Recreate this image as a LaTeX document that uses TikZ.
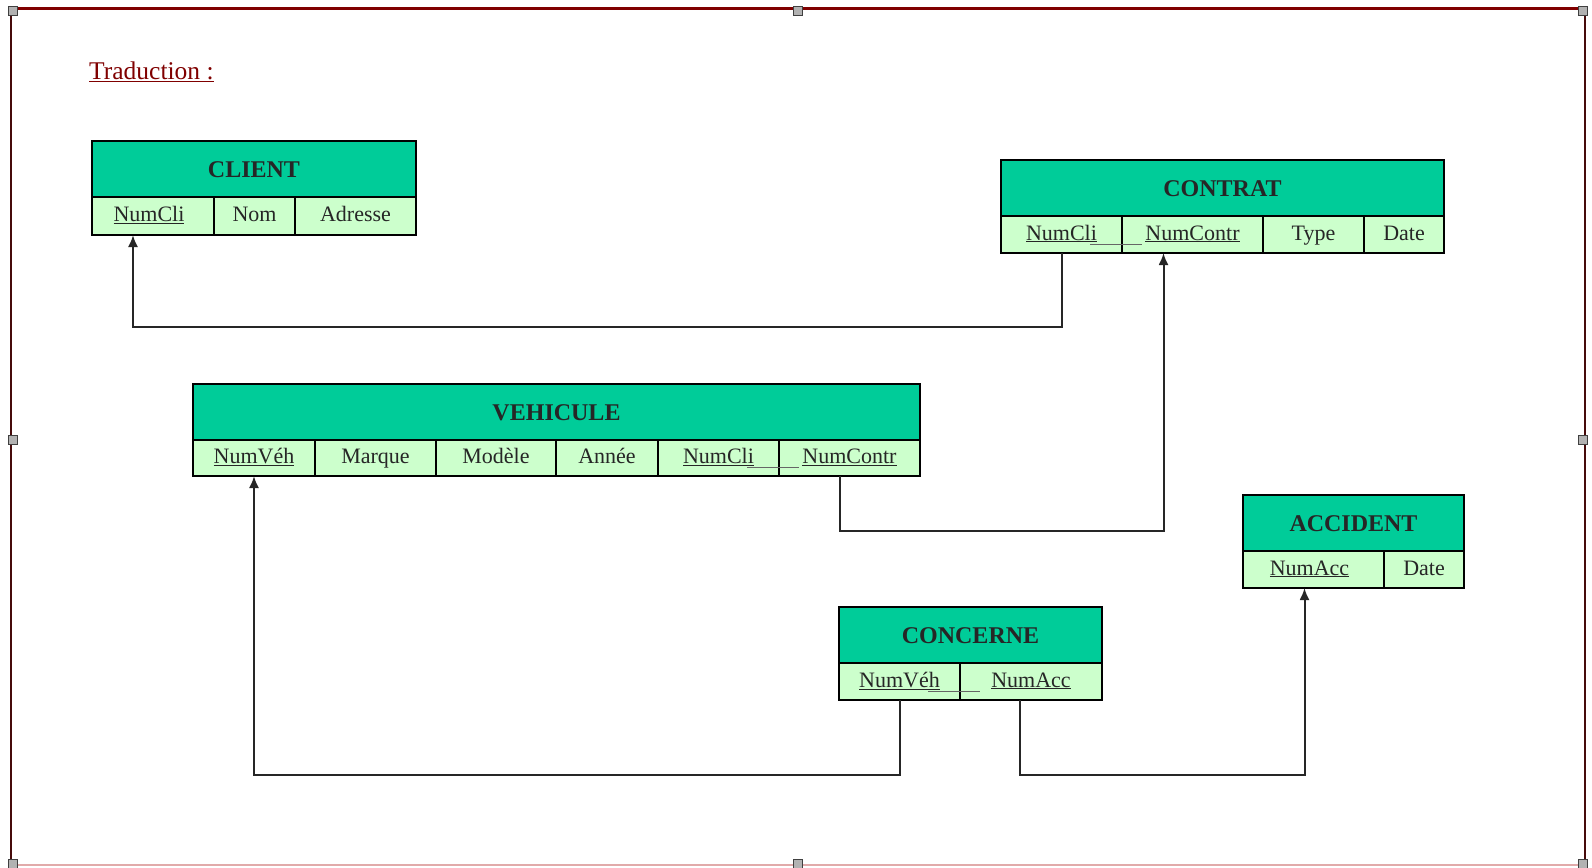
\documentclass[tikz,border=0pt]{standalone}
\usepackage{fontspec}
\setmainfont{Liberation Serif}
\usetikzlibrary{arrows.meta,calc}
\definecolor{hdrgreen}{RGB}{0,204,153}
\definecolor{attgreen}{RGB}{204,255,204}
\definecolor{framered}{RGB}{128,0,0}
\definecolor{framedark}{RGB}{70,10,10}
\definecolor{framepink}{RGB}{225,170,170}
\definecolor{titlered}{RGB}{128,0,0}
\begin{document}
\begin{tikzpicture}[x=1pt,y=-1pt,
  hdrbox/.style={draw=black,line width=1.8pt,fill=hdrgreen,inner sep=0pt,outer sep=0pt,anchor=north west,
     font=\fontsize{24}{28}\selectfont\bfseries,text=black!85,text height=17pt,text depth=0pt},
  cellbox/.style={draw=black,line width=1.8pt,fill=attgreen,inner sep=0pt,outer sep=0pt,anchor=north west,
     font=\fontsize{22}{26}\selectfont,text=black!85,text height=17pt,text depth=6pt},
  link/.style={line width=2pt,black!85},
  arrowlink/.style={link,-{Latex[length=12pt,width=10pt]}},
  keyjoin/.style={line width=1pt,black!60},
  handle/.style={draw=black!75,fill=black!30,line width=0.8pt,minimum size=9pt,inner sep=0pt}
]
\useasboundingbox (0,0) rectangle (1592,867);
\fill[white] (0,0) rectangle (1592,867);
% window frame
\draw[framepink,line width=1.5pt] (11,865) -- (1585,865);
\draw[framedark,line width=2pt] (11,9) -- (11,866);
\draw[framedark,line width=2pt] (1585,9) -- (1585,866);
\draw[framered,line width=3pt] (11,9) -- (1585,9);
\node[handle] (h1) at (13,11) {};
\node[handle] (h2) at (798,11) {};
\node[handle] (h3) at (1583,11) {};
\node[handle] (h4) at (13,440) {};
\node[handle] (h5) at (1583,440) {};
\node[handle] (h6) at (13,864) {};
\node[handle] (h7) at (798,864) {};
\node[handle] (h8) at (1583,864) {};

% title
\node[anchor=base west,inner sep=0pt,text=titlered,font=\fontsize{25.5}{30}\selectfont] (title) at (89,79) {\underline{Traduction :}};

% CLIENT
\node[hdrbox,minimum width=324pt,minimum height=56pt] (client) at (92,141) {CLIENT};
\node[cellbox,minimum width=122pt,minimum height=38pt] (client-numcli) at (92,197) {\underline{NumCli}\hspace*{8pt}};
\node[cellbox,minimum width=81pt,minimum height=38pt] (client-nom) at (214,197) {Nom};
\node[cellbox,minimum width=121pt,minimum height=38pt] (client-adr) at (295,197) {Adresse};

% CONTRAT
\node[hdrbox,minimum width=443pt,minimum height=56pt] (contrat) at (1001,160) {CONTRAT};
\node[cellbox,minimum width=121pt,minimum height=37pt] (contrat-numcli) at (1001,216) {\underline{NumCli}};
\node[cellbox,minimum width=141pt,minimum height=37pt] (contrat-numcontr) at (1122,216) {\underline{NumContr}};
\node[cellbox,minimum width=101pt,minimum height=37pt] (contrat-type) at (1263,216) {Type};
\node[cellbox,minimum width=80pt,minimum height=37pt] (contrat-date) at (1364,216) {Date};
\draw[keyjoin] ($(contrat-numcli.south east)+(-32,-9)$) -- ($(contrat-numcontr.south west)+(20,-9)$);

% VEHICULE
\node[hdrbox,minimum width=727pt,minimum height=56pt] (vehicule) at (193,384) {VEHICULE};
\node[cellbox,minimum width=122pt,minimum height=36pt] (veh-numveh) at (193,440) {\underline{NumVéh}};
\node[cellbox,minimum width=121pt,minimum height=36pt] (veh-marque) at (315,440) {Marque};
\node[cellbox,minimum width=120pt,minimum height=36pt] (veh-modele) at (436,440) {Modèle};
\node[cellbox,minimum width=102pt,minimum height=36pt] (veh-annee) at (556,440) {Année};
\node[cellbox,minimum width=121pt,minimum height=36pt] (veh-numcli) at (658,440) {\underline{NumCli}};
\node[cellbox,minimum width=141pt,minimum height=36pt] (veh-numcontr) at (779,440) {\underline{NumContr}};
\draw[keyjoin] ($(veh-numcli.south east)+(-32,-9)$) -- ($(veh-numcontr.south west)+(20,-9)$);

% ACCIDENT
\node[hdrbox,minimum width=221pt,minimum height=56pt] (accident) at (1243,495) {ACCIDENT};
\node[cellbox,minimum width=141pt,minimum height=37pt] (acc-numacc) at (1243,551) {\underline{NumAcc}\hspace*{8pt}};
\node[cellbox,minimum width=80pt,minimum height=37pt] (acc-date) at (1384,551) {Date};

% CONCERNE
\node[hdrbox,minimum width=263pt,minimum height=56pt] (concerne) at (839,607) {CONCERNE};
\node[cellbox,minimum width=121pt,minimum height=37pt] (con-numveh) at (839,663) {\underline{NumVéh}};
\node[cellbox,minimum width=142pt,minimum height=37pt] (con-numacc) at (960,663) {\underline{NumAcc}};
\draw[keyjoin] ($(con-numveh.south east)+(-32,-9)$) -- ($(con-numacc.south west)+(20,-9)$);

% connectors
\coordinate (s1) at (contrat-numcli.south);
\coordinate (b1) at ($(s1)+(0,74)$);
\coordinate (t1) at ($(client-numcli.south)+(-20,0)$);
\draw[arrowlink] (s1) -- (b1) -- (b1 -| t1) -- (t1);

\coordinate (s2) at ($(veh-numcontr.south)+(-10,0)$);
\coordinate (b2) at ($(s2)+(0,55)$);
\coordinate (t2) at ($(contrat-numcontr.south)+(-29,0)$);
\draw[arrowlink] (s2) -- (b2) -- (b2 -| t2) -- (t2);

\coordinate (s3) at (con-numveh.south);
\coordinate (b3) at ($(s3)+(0,75)$);
\coordinate (t3) at (veh-numveh.south);
\draw[arrowlink] (s3) -- (b3) -- (b3 -| t3) -- (t3);

\coordinate (s4) at ($(con-numacc.south)+(-11,0)$);
\coordinate (b4) at ($(s4)+(0,75)$);
\coordinate (t4) at ($(acc-numacc.south)+(-9,0)$);
\draw[arrowlink] (s4) -- (b4) -- (b4 -| t4) -- (t4);
\end{tikzpicture}
\end{document}
